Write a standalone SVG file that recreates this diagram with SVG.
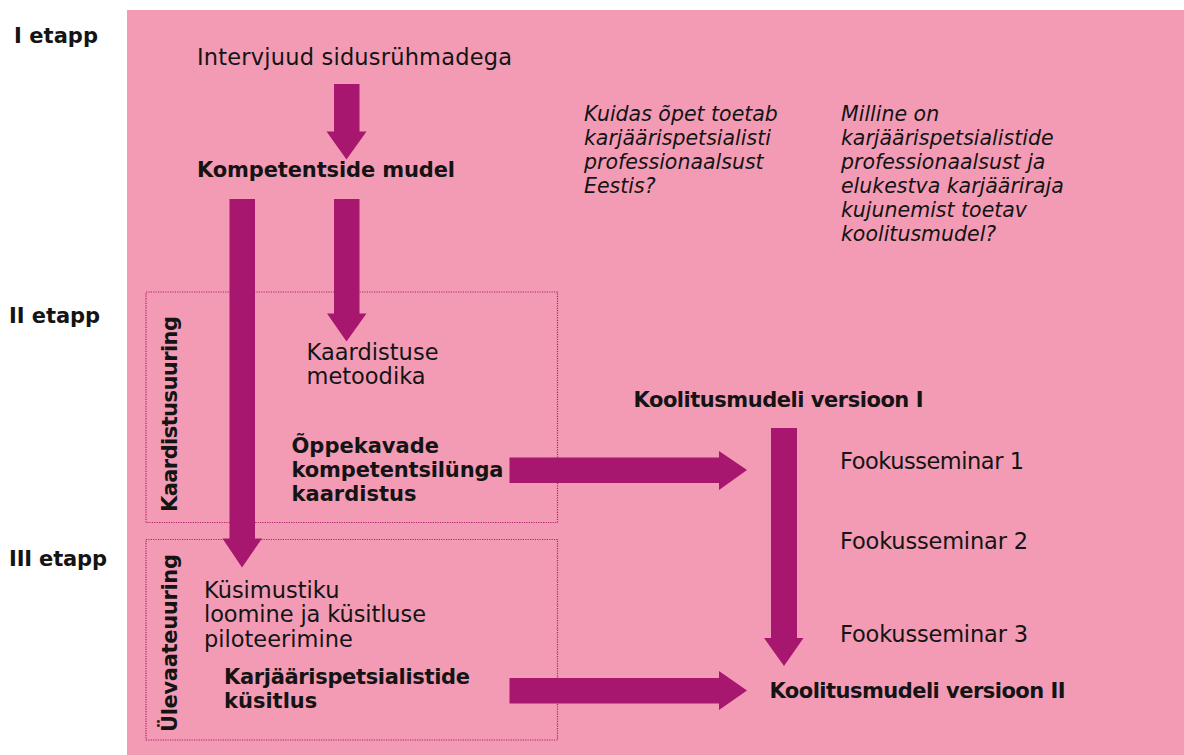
<svg xmlns="http://www.w3.org/2000/svg" width="1184" height="755" viewBox="0 0 1184 755">
<style>
.t{font-family:"DejaVu Sans","Liberation Sans",sans-serif;fill:#141414}
.r{font-size:22.5px}
.b{font-size:21px;font-weight:bold}
.i{font-size:20.5px;font-style:italic}
.box{fill:none;stroke:#b0206f;stroke-width:1.2;stroke-dasharray:1.2 1.2}
.arr{fill:#a8176f}
</style>
<rect x="0" y="0" width="1184" height="755" fill="#ffffff"/>
<rect id="bg" x="127" y="10" width="1057" height="745" fill="#f39bb4"/>

<g id="stages">
<text class="t b" x="14" y="43" textLength="84">I etapp</text>
<text class="t b" x="9" y="323" textLength="91">II etapp</text>
<text class="t b" x="9" y="566" textLength="98">III etapp</text>
</g>

<g id="group-kaardistus">
<rect class="box" x="146" y="292" width="411.5" height="230.5"/>
<text class="t b" transform="translate(177,512) rotate(-90)" x="0" y="0" textLength="196">Kaardistusuuring</text>
</g>
<g id="group-ulevaade">
<rect class="box" x="146" y="539.5" width="411.5" height="200.5"/>
<text class="t b" transform="translate(177,732) rotate(-90)" x="0" y="0" textLength="178">Ülevaateuuring</text>
</g>

<g id="connectors">
<polygon class="arr" points="334,84 359.5,84 359.5,131.5 366.5,131.5 346.5,159.5 326.5,131.5 334,131.5"/>
<polygon class="arr" points="334,199 359.5,199 359.5,313.5 366.5,313.5 346.5,341.5 327,313.5 334,313.5"/>
<polygon class="arr" points="229.5,199 255,199 255,538.5 262,538.5 242,567.5 222.5,538.5 229.5,538.5"/>
<polygon class="arr" points="509.5,457.5 719,457.5 719,451 747,470 719,490 719,483 509.5,483"/>
<polygon class="arr" points="771,428 797,428 797,638 803.5,638 784,666 764,638 771,638"/>
<polygon class="arr" points="509.5,678 719,678 719,671 747,690.5 719,710 719,703.5 509.5,703.5"/>
</g>

<g id="n-intervjuud">
<text class="t r" x="197" y="65" textLength="315">Intervjuud sidusrühmadega</text>
</g>
<g id="n-kompetentside">
<text class="t b" x="197" y="177" textLength="258">Kompetentside mudel</text>
</g>
<g id="n-kaardistuse-metoodika">
<text class="t r" x="306.5" y="360" textLength="132">Kaardistuse</text>
<text class="t r" x="306.5" y="383.5">metoodika</text>
</g>
<g id="n-oppekavade">
<text class="t b" x="291.5" y="453">Õppekavade</text>
<text class="t b" x="291.5" y="477" textLength="212">kompetentsilünga</text>
<text class="t b" x="291.5" y="501">kaardistus</text>
</g>
<g id="n-kusimustiku">
<text class="t r" x="204" y="598">Küsimustiku</text>
<text class="t r" x="204" y="622" textLength="222">loomine ja küsitluse</text>
<text class="t r" x="204" y="646.5">piloteerimine</text>
</g>
<g id="n-karjaari-kusitlus">
<text class="t b" x="224" y="684" textLength="246">Karjäärispetsialistide</text>
<text class="t b" x="224" y="708">küsitlus</text>
</g>
<g id="q-kuidas">
<text class="t i" x="584" y="120.5">Kuidas õpet toetab</text>
<text class="t i" x="584" y="145">karjäärispetsialisti</text>
<text class="t i" x="584" y="169">professionaalsust</text>
<text class="t i" x="584" y="193">Eestis?</text>
</g>
<g id="q-milline">
<text class="t i" x="841" y="120.5">Milline on</text>
<text class="t i" x="841" y="145">karjäärispetsialistide</text>
<text class="t i" x="841" y="169">professionaalsust ja</text>
<text class="t i" x="841" y="193">elukestva karjääriraja</text>
<text class="t i" x="841" y="217">kujunemist toetav</text>
<text class="t i" x="841" y="240.5">koolitusmudel?</text>
</g>
<g id="n-versioon1">
<text class="t b" x="633.5" y="406.5" textLength="290">Koolitusmudeli versioon I</text>
</g>
<g id="n-fookus1"><text class="t r" x="840" y="469" textLength="184">Fookusseminar 1</text></g>
<g id="n-fookus2"><text class="t r" x="840" y="549" textLength="188">Fookusseminar 2</text></g>
<g id="n-fookus3"><text class="t r" x="840" y="641.5" textLength="188">Fookusseminar 3</text></g>
<g id="n-versioon2">
<text class="t b" x="769.5" y="698" textLength="296">Koolitusmudeli versioon II</text>
</g>
</svg>
